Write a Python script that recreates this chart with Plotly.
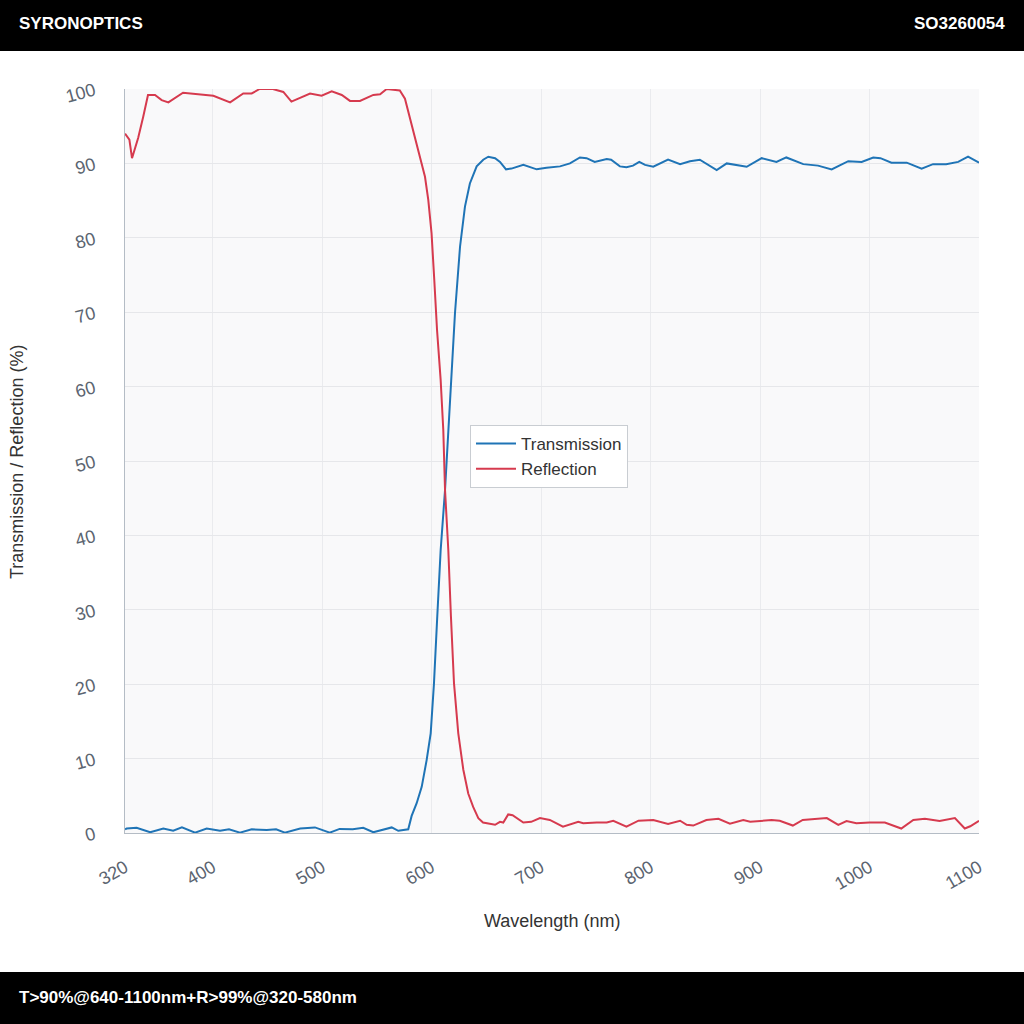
import plotly.graph_objects as go

# wavelength (nm) / value (%) pairs
trans_nm = [320, 321.5, 330.6, 343, 355, 364, 372, 384, 394.6, 406.8, 415, 425, 435.7,
            449.4, 458, 466, 480, 493.5, 507, 516, 528, 537.6, 546.8, 563.6, 569.6,
            578.7, 581.8, 586.4, 591, 595.5, 599.2, 602.2, 605.2, 608.3, 612.3, 613.8,
            617.5, 621.4, 626, 630.5, 635, 641.2, 647.2, 651.8, 658, 662.5, 668, 673,
            683.8, 691.4, 696, 705, 717.3, 726.4, 735.5, 741.6, 749, 760, 764, 772,
            778, 784, 789.7, 795, 802.5, 816, 827, 836, 845, 860.4, 869.6, 887.8,
            901.5, 915, 924, 939.5, 953, 965.4, 980.6, 992.8, 1003.4, 1010, 1020,
            1034, 1047.6, 1058, 1070, 1081, 1090, 1100]
trans_pct = [0.5, 0.6, 0.7, 0.1, 0.6, 0.3, 0.75, 0.05, 0.6, 0.3, 0.5, 0.05, 0.5,
             0.4, 0.5, 0.05, 0.6, 0.75, 0.05, 0.55, 0.5, 0.7, 0.1, 0.75, 0.3,
             0.5, 2.3, 4.0, 6.2, 9.8, 13.4, 20.1, 29.1, 38.0, 46.1, 50.1,
             60.9, 69.9, 78.8, 84.2, 87.3, 89.6, 90.5, 90.9, 90.7, 90.2, 89.2, 89.3,
             89.8, 89.4, 89.2, 89.4, 89.6, 90.0, 90.8, 90.7, 90.2, 90.6, 90.5, 89.6,
             89.5, 89.7, 90.2, 89.8, 89.55, 90.5, 89.9, 90.3, 90.5, 89.1, 90.0, 89.55,
             90.7, 90.2, 90.8, 89.9, 89.7, 89.2, 90.3, 90.2, 90.8, 90.7, 90.1,
             90.1, 89.3, 89.9, 89.9, 90.2, 90.9, 90.1]

refl_nm = [320, 324, 326.4, 328, 332, 336.7, 341, 347.4, 353.5, 359.6, 373, 400.7,
           416, 428, 435.7, 443, 455, 464.6, 472, 489, 499.6, 508.8, 518, 525.5,
           534.6, 546.8, 553, 559, 571, 575.7, 580, 582.8, 586.4, 591, 594, 597,
           600, 602.5, 605, 608.3, 610.7, 612.3, 615.3, 617.7, 620.5, 624.4, 629,
           633.5, 638, 642.7, 647, 658, 662.5, 665.5, 670, 674, 683.8, 691, 699,
           708, 720, 734, 738.5, 750.8, 760, 766, 778, 789, 802.5, 816, 827, 833,
           839, 851, 862, 872.5, 884.7, 891, 897, 910.6, 918, 930, 939, 951.7, 961,
           971.5, 979, 988, 1000, 1014, 1029, 1040, 1050.6, 1064, 1078, 1087, 1092,
           1100]
refl_pct = [94.0, 93.2, 90.7, 91.5, 93.4, 96.3, 99.2, 99.2, 98.5, 98.2, 99.5, 99.1,
            98.2, 99.4, 99.4, 100, 100, 99.6, 98.3, 99.4, 99.1, 99.7, 99.2, 98.4,
            98.4, 99.2, 99.3, 100, 99.8, 98.7, 96.3, 94.5, 92.5, 90.2, 88.2, 85.1,
            80.6, 74.3, 67.6, 60.9, 54.2, 46.1, 38.0, 29.1, 20.1, 13.4, 8.5,
            5.3, 3.5, 2.0, 1.4, 1.1, 1.5, 1.4, 2.5, 2.4, 1.4, 1.5, 2.0,
            1.75, 0.85, 1.5, 1.3, 1.4, 1.4, 1.65, 0.85, 1.65, 1.75, 1.2, 1.65, 1.1,
            1.0, 1.75, 1.9, 1.25, 1.75, 1.5, 1.6, 1.75, 1.65, 1.0, 1.75, 1.85, 2.0,
            1.1, 1.6, 1.3, 1.4, 1.4, 0.6, 1.75, 1.9, 1.6, 2.0, 0.6, 0.9,
            1.65]

x_ticks = [320, 400, 500, 600, 700, 800, 900, 1000, 1100]

header_left = "SYRONOPTICS"
header_right = "SO3260054"
footer_text = "T>90%@640-1100nm+R>99%@320-580nm"

FONT = "Liberation Sans, Arial, Helvetica, sans-serif"

fig = go.Figure()
fig.add_trace(go.Scatter(x=trans_nm, y=trans_pct, mode="lines", name="Transmission",
                         line=dict(color="#1f74b6", width=2)))
fig.add_trace(go.Scatter(x=refl_nm, y=refl_pct, mode="lines", name="Reflection",
                         line=dict(color="#d63a4e", width=2)))

# plot area: x 125..979 px, y 89..833 px in a 1024x1024 page
L, R, T, B = 125, 45, 89, 191
W = 1024 - L - R
H = 1024 - T - B


def px_x(px):
    return (px - L) / W


def px_y(py):
    return (1024 - B - py) / H


fig.update_layout(
    width=1024, height=1024,
    margin=dict(l=L, r=R, t=T, b=B),
    paper_bgcolor="white",
    plot_bgcolor="#f9f9fa",
    font=dict(family=FONT, color="#333333"),
    showlegend=True,
    legend=dict(x=px_x(470), y=px_y(425), xanchor="left", yanchor="top",
                bgcolor="white", bordercolor="#c9cdd2", borderwidth=1,
                entrywidth=190, itemwidth=40, tracegroupgap=0,
                font=dict(size=17, color="#333333")),
    shapes=[
        dict(type="rect", xref="paper", yref="paper", x0=px_x(0), x1=px_x(1024),
             y0=px_y(0), y1=px_y(51), fillcolor="black", line=dict(width=0)),
        dict(type="rect", xref="paper", yref="paper", x0=px_x(0), x1=px_x(1024),
             y0=px_y(972), y1=px_y(1024), fillcolor="black", line=dict(width=0)),
    ],
    annotations=[
        dict(text=header_left, xref="paper", yref="paper", x=px_x(17), y=px_y(24),
             xanchor="left", yanchor="middle", showarrow=False,
             font=dict(family=FONT, size=17, color="white", weight="bold")),
        dict(text=header_right, xref="paper", yref="paper", x=px_x(1007), y=px_y(24),
             xanchor="right", yanchor="middle", showarrow=False,
             font=dict(family=FONT, size=17, color="white", weight="bold")),
        dict(text=footer_text, xref="paper", yref="paper", x=px_x(17), y=px_y(997),
             xanchor="left", yanchor="middle", showarrow=False,
             font=dict(family=FONT, size=17, color="white", weight="bold")),
        dict(text="Wavelength (nm)", xref="paper", yref="paper", x=px_x(552), y=px_y(921),
             xanchor="center", yanchor="middle", showarrow=False,
             font=dict(family=FONT, size=18, color="#333333")),
        dict(text="Transmission / Reflection (%)", xref="paper", yref="paper",
             x=px_x(17), y=px_y(462), xanchor="center", yanchor="middle",
             textangle=-90, showarrow=False,
             font=dict(family=FONT, size=18, color="#333333")),
    ],
)

fig.update_xaxes(range=[320, 1100], tickvals=x_ticks, tickangle=-30,
                 tickfont=dict(size=18, color="#5b6470"),
                 showgrid=True, gridcolor="#eaebee", zeroline=False,
                 showline=True, linecolor="#b4bcc5", linewidth=1, ticks="",
                 ticklabelstandoff=16)
fig.update_yaxes(range=[0, 100], dtick=10, tickangle=-15,
                 tickfont=dict(size=18, color="#5b6470"),
                 showgrid=True, gridcolor="#e6e7ea", zeroline=False,
                 showline=True, linecolor="#b4bcc5", linewidth=1, ticks="",
                 ticklabelstandoff=26)

fig.write_html("out.html", config={"displayModeBar": False},
               post_script="document.body.style.margin='0';")
